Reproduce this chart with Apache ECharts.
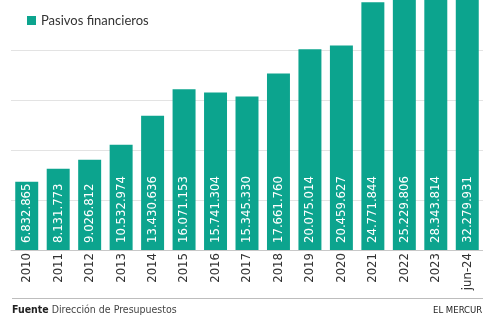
<!DOCTYPE html>
<html>
<head>
<meta charset="utf-8">
<script src="https://cdn.jsdelivr.net/npm/echarts@6/dist/echarts.min.js"></script>
<style>
html,body{margin:0;padding:0;background:#fff;}
#chart{width:483px;height:316px;}
</style>
</head>
<body>
<div id="chart"></div>
<script>
var categories = ['2010','2011','2012','2013','2014','2015','2016','2017','2018','2019','2020','2021','2022','2023','jun-24'];
var pasivos = [6832865, 8131773, 9026812, 10532974, 13430636, 16071153, 15741304, 15345330, 17661760, 20075014, 20459627, 24771844, 25229806, 28343814, 32279931];
var seriesName = 'Pasivos financieros';
var sourceLabel = 'Fuente';
var sourceText = 'Dirección de Presupuestos';
var brand = 'EL MERCURIO';

function fmt(v){
  return String(v).replace(/\B(?=(\d{3})+(?!\d))/g, '.');
}

var chart = echarts.init(document.getElementById('chart'), null, {renderer:'canvas'});
chart.setOption({
  animation: false,
  backgroundColor: '#fff',
  legend: {
    left: 27, top: 14, padding: 0,
    itemWidth: 9, itemHeight: 9, itemGap: 6,
    icon: 'rect',
    textStyle: {fontFamily: 'Lato', fontSize: 13, color: '#333'},
    data: [seriesName]
  },
  grid: {left: 11, right: -4, top: 0, bottom: 66, containLabel: false},
  xAxis: {
    type: 'category',
    data: categories,
    axisLine: {show: true, lineStyle: {color: '#c8c8c8', width: 1}},
    axisTick: {show: false},
    axisLabel: {rotate: 90, margin: 3, fontFamily: 'DejaVu Sans Condensed', fontSize: 13, color: '#333'}
  },
  yAxis: {
    type: 'value', min: 0, max: 25000000, interval: 5000000,
    axisLabel: {show: false},
    axisLine: {show: false}, axisTick: {show: false},
    splitLine: {show: true, showMinLine: false, showMaxLine: false, lineStyle: {color: '#e3e3e3', width: 1}}
  },
  series: [{
    name: seriesName,
    type: 'bar',
    data: pasivos,
    barCategoryGap: '27%',
    itemStyle: {color: '#0ca48e'},
    label: {
      show: true,
      position: 'insideBottom',
      rotate: 90,
      align: 'left',
      verticalAlign: 'middle',
      distance: 7,
      color: '#fff',
      fontFamily: 'DejaVu Sans Condensed',
      fontSize: 13,
      formatter: function(p){ return fmt(p.value); }
    }
  }],
  graphic: [
    {type: 'line', shape: {x1: 12, y1: 298.5, x2: 483, y2: 298.5}, style: {stroke: '#bdbdbd', lineWidth: 1}},
    {type: 'text', x: 12, y: 305, style: {
      text: '{b|' + sourceLabel + '} ' + sourceText,
      rich: {b: {fontWeight: 'bold', fontFamily: 'DejaVu Sans Condensed', fontSize: 10.5, fill: '#222'}},
      fontFamily: 'DejaVu Sans Condensed', fontSize: 10.5, fill: '#444'
    }},
    {type: 'text', x: 433, y: 306, style: {
      text: brand, fontFamily: 'DejaVu Sans Condensed', fontSize: 9.5, fill: '#222'
    }}
  ]
});
</script>
</body>
</html>
